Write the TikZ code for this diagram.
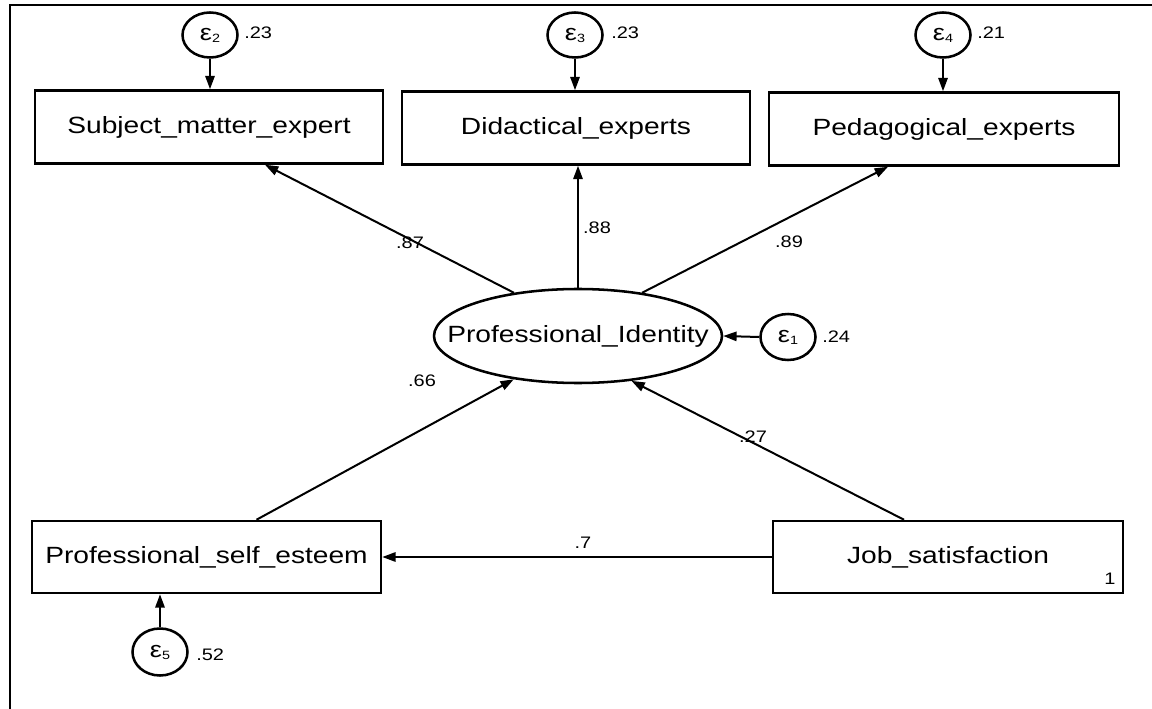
\documentclass[tikz,border=0pt]{standalone}
\usepackage{fontspec}
\setmainfont{Liberation Sans}[FakeStretch=1.2]
\usetikzlibrary{arrows.meta,calc,shapes.geometric}
\begin{document}
\begin{tikzpicture}[x=0.75pt,y=-0.75pt,
  box/.style={draw,line width=1.9pt,minimum width=#1*0.75pt,minimum height=73*0.75pt,inner sep=0pt,font=\fontsize{17.6pt}{20pt}\selectfont},
  latent/.style={draw,ellipse,line width=1.9pt,minimum width=288*0.75pt,minimum height=94*0.75pt,inner sep=0pt},
  err/.style={draw,ellipse,line width=1.9pt,minimum width=55*0.75pt,minimum height=45*0.75pt,inner sep=0pt},
  num/.style={inner sep=0pt,font=\fontsize{12.5pt}{14pt}\selectfont},
  arr/.style={line width=1.5pt,-{Triangle[length=10pt,width=7pt]}}
]
\useasboundingbox (0,0) rectangle (1152,709);
\newcommand{\eps}[1]{{\fontsize{17pt}{18pt}\selectfont ε}{\fontsize{9pt}{10pt}\selectfont\raisebox{-1.5pt}{#1}}}
% frame
\draw[line width=2pt] (10,720) -- (10,5) -- (1165,5);
% observed boxes
\node[box=348] (sme) at (209,127) {Subject\_matter\_expert};
\node[box=348] (de) at (576,128) {Didactical\_experts};
\node[box=350] (pe) at (944,129) {Pedagogical\_experts};
\node[box=349,minimum height=72*0.75pt] (pse) at (206.5,557) {Professional\_self\_esteem};
\node[box=350,minimum height=72*0.75pt] (js) at (948,557) {Job\_satisfaction};
\node[num] (one) at (1110,579) {1};
% latent
\node[latent,label={[font=\fontsize{17.6pt}{20pt}\selectfont]center:Professional\_Identity}] (pi) at (578,336) {};
% errors
\node[err] (e2) at (210,35) {\eps{2}};
\node[err] (e3) at (575,35) {\eps{3}};
\node[err] (e4) at (943,35) {\eps{4}};
\node[err,minimum height=46*0.75pt] (e1) at (788,337) {\eps{1}};
\node[err,minimum height=47*0.75pt] (e5) at (160,652) {\eps{5}};
\node[num,anchor=west] (v2) at (244,33) {.23};
\node[num,anchor=west] (v3) at (611,33) {.23};
\node[num,anchor=west] (v4) at (977,33) {.21};
\node[num,anchor=west] (v1) at (822,337) {.24};
\node[num,anchor=west] (v5) at (196,655) {.52};
% error arrows
\draw[arr] (e2.south) -- (e2.south |- sme.north);
\draw[arr] (e3.south) -- (e3.south |- de.north);
\draw[arr] (e4.south) -- (e4.south |- pe.north);
\draw[arr] (e1.west) -- (pi.east);
\draw[arr] (e5.north) -- (e5.north |- pse.south);
% structural arrows
\draw[arr] (pi.146) -- ($(sme.south)+(56,0)$);
\draw[arr] (pi.north) -- (pi.north |- de.south);
\draw[arr] (pi.34) -- ($(pe.south)+(-56,0)$);
\draw[arr] ($(pse.north)+(50,0)$) -- (pi.214);
\draw[arr] ($(js.north)+(-44,0)$) -- (pi.320);
\draw[arr] (js.west) -- (pse.east);
% coefficients
\node[num] (c87) at (410,243) {.87};
\node[num] (c88) at (597,228) {.88};
\node[num] (c89) at (789,242) {.89};
\node[num] (c66) at (422,381) {.66};
\node[num] (c27) at (753,437) {.27};
\node[num] (c7) at (583,543) {.7};
\end{tikzpicture}
\end{document}
